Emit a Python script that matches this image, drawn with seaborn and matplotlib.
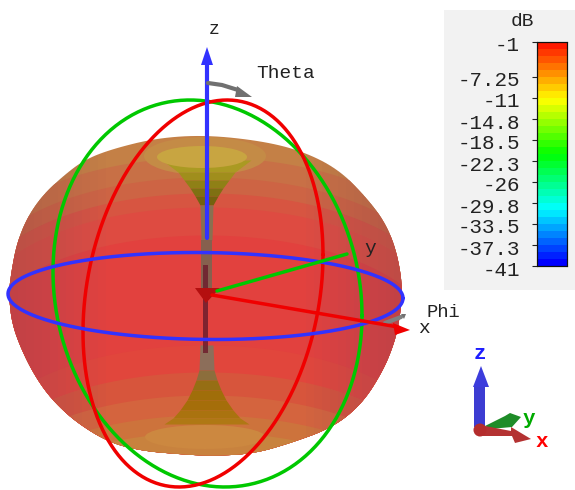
import numpy as np
import matplotlib
matplotlib.use('Agg')
import matplotlib.pyplot as plt
from matplotlib.colors import LinearSegmentedColormap
from matplotlib.patches import Ellipse, Polygon, Rectangle, Circle
from matplotlib.transforms import ScaledTranslation
import seaborn as sns

# colour bar
tick_values = [-1, -7.25, -11, -14.8, -18.5, -22.3, -26, -29.8, -33.5, -37.3, -41]
tick_labels = ['-1', '-7.25', '-11', '-14.8', '-18.5', '-22.3', '-26', '-29.8', '-33.5', '-37.3', '-41']
bar_colors = ['#0000ff', '#00ffff', '#00ff00', '#ffff00', '#ff1a00']

# pattern silhouette (scene units = pixels)
outline_x = [9, 12, 17, 27, 42, 62, 84, 112, 157, 206, 262, 302, 338, 365, 385, 397, 403,
             399, 394, 383, 362, 332, 288, 252, 210, 177, 143, 110, 77, 53, 36, 22, 12, 9]
outline_y = [290, 268, 243, 218, 196, 177, 160, 149, 138, 135, 141, 151, 169, 196, 222, 252, 290,
             323, 344, 371, 404, 428, 444, 454, 456, 454, 451, 443, 423, 401, 378, 351, 324, 297]

# gain bands seen as arches across the body
band_top = [130, 157, 177, 193, 207, 235, 345, 372, 395, 415, 432]
band_color = ['#c48046', '#c87046', '#cd6444', '#d75541', '#de4b41', '#e2413e',
              '#e1463c', '#d7553c', '#d4643e', '#cd733c', '#c8823e']

# funnels along the z axis
funnel_top_y = [160, 172, 180, 188, 196, 205, 240, 292]
funnel_top_w = [44, 28, 22, 16, 11, 6, 5, 5]
funnel_top_c = ['#aa9a22', '#a08e1c', '#8f8016', '#7f7012', '#74620f', '#8a7050', '#86604e']
funnel_bot_y = [345, 370, 380, 390, 400, 410, 418, 424]
funnel_bot_w = [6, 7, 10, 14, 19, 26, 33, 42]
funnel_bot_c = ['#8c6e5a', '#8c6e3c', '#966e14', '#a06e0a', '#a56e0a', '#aa730f', '#af7814']

# rings: centre x, centre y, half width, half height, skew
ring_names = ['green', 'red', 'blue']
ring_cx = [207.5, 203, 205.5]
ring_cy = [293.5, 293.5, 296]
ring_ax = [154.5, 120, 197.5]
ring_ay = [193.5, 193.5, 43.5]
ring_skew = [0.113, -0.2, 0.05]
ring_color = ['#00c800', '#f00000', '#3232ff']


def round_corners(pts, passes=3):
    # corner cutting so the silhouette has no visible facets
    for _ in range(passes):
        nxt = np.roll(pts, -1, axis=0)
        pts = np.column_stack([0.75 * pts + 0.25 * nxt, 0.25 * pts + 0.75 * nxt]).reshape(-1, 2)
    return pts


sns.set_theme(style='white')
plt.rcParams['font.family'] = ['Liberation Mono', 'DejaVu Sans Mono']

fig = plt.figure(figsize=(5.75, 4.9), dpi=100)
ax = fig.add_axes([0, 0, 1, 1])
ax.set_xlim(0, 575)
ax.set_ylim(490, 0)
ax.axis('off')

# legend panel
ax.add_patch(Rectangle((444, 10), 131, 280, color='#f2f2f2', lw=0, zorder=1))
ax.text(522, 21, 'dB', ha='center', va='center', fontsize=14, color='#222222', zorder=2)

hidden = fig.add_axes([0, 0, 0.01, 0.01])
cax = fig.add_axes([537 / 575, 1 - 266 / 490, 30 / 575, 224 / 490])
cmap = LinearSegmentedColormap.from_list('cst', bar_colors, N=32)
sns.heatmap(np.array(tick_values).reshape(-1, 1), ax=hidden, cbar_ax=cax, vmin=-41, vmax=-1,
            cmap=cmap, cbar_kws={'ticks': tick_values})
hidden.set_visible(False)
cax.set_yticks(tick_values)
cax.set_yticklabels(tick_labels, fontsize=15, color='#222222', ha='right')
cax.yaxis.set_ticks_position('left')
cax.tick_params(axis='y', length=3.6, width=0.8, color='#222222', pad=8.6, left=True, right=False)
for lab in cax.get_yticklabels():
    lab.set_transform(lab.get_transform() + ScaledTranslation(0, -2 / 100, fig.dpi_scale_trans))
for s in cax.spines.values():
    s.set_visible(True)
    s.set_color('#111111')
    s.set_linewidth(0.8)

# body
body = Polygon(round_corners(np.column_stack([outline_x, outline_y], ).astype(float)),
               closed=True, fc='none', ec='none')
ax.add_patch(body)
xs = np.arange(0, 421)
for top, col in zip(band_top, band_color):
    arch = top + 105 * (1 - np.sqrt(1 - ((xs - 206) / 230) ** 2))
    f = ax.fill_between(xs, arch, 490, color=col, lw=0, zorder=2)
    f.set_clip_path(body)

# darker towards the silhouette edge
for lo in range(100, 196, 8):
    left = ax.add_patch(Rectangle((0, 100), 206 - lo, 380, color='#8c5064', alpha=0.03, lw=0, zorder=2.1))
    right = ax.add_patch(Rectangle((206 + lo, 100), 214, 380, color='#8c5064', alpha=0.03, lw=0, zorder=2.1))
    left.set_clip_path(body)
    right.set_clip_path(body)

# rims around the funnels
ax.add_patch(Ellipse((205, 156), 122, 38, color='#c48b46', lw=0, zorder=2.2))
ax.add_patch(Ellipse((205, 437), 120, 24, color='#cc8840', lw=0, zorder=2.2))

for i, col in enumerate(funnel_top_c):
    ax.fill_betweenx(funnel_top_y[i:i + 2],
                     [206 - w for w in funnel_top_w[i:i + 2]],
                     [207 + w for w in funnel_top_w[i:i + 2]], color=col, lw=0, zorder=2.3)
for i, col in enumerate(funnel_bot_c):
    ax.fill_betweenx(funnel_bot_y[i:i + 2],
                     [206 - w for w in funnel_bot_w[i:i + 2]],
                     [207 + w for w in funnel_bot_w[i:i + 2]], color=col, lw=0, zorder=2.3)
ax.add_patch(Ellipse((202, 157), 90, 22, color='#c8a541', lw=0, zorder=2.4))

# dark stem and the arrow seen end on
ax.add_patch(Rectangle((203, 265), 5, 88, color='#6e1e2d', alpha=0.85, lw=0, zorder=2.5))
ax.add_patch(Polygon([(195, 288), (220, 288), (206, 303)], color='#b40f0f', lw=0, zorder=3))

# rings
u = np.linspace(0, 2 * np.pi, 300)
for i, name in enumerate(ring_names):
    d = np.arccos(ring_skew[i])
    rx = ring_cx[i] + ring_ax[i] * np.cos(u)
    ry = ring_cy[i] + ring_ay[i] * np.cos(u - d)
    sns.lineplot(x=rx, y=ry, sort=False, estimator=None, color=ring_color[i], lw=2.5,
                 ax=ax, zorder=4, legend=False)

# main axes
sns.lineplot(x=[207, 207], y=[60, 238], color='#3232ff', lw=3, estimator=None, ax=ax, zorder=5)
ax.add_patch(Polygon([(207, 47), (201, 65), (213, 65)], color='#3232ff', lw=0, zorder=5))
sns.lineplot(x=[217, 347], y=[291, 254], color='#00c800', lw=2.5, estimator=None, sort=False, ax=ax, zorder=5)
sns.lineplot(x=[212, 398], y=[295, 327], color='#f00000', lw=2.5, estimator=None, sort=False, ax=ax, zorder=5)
ax.add_patch(Polygon([(410, 330), (393, 323), (395, 335)], color='#f00000', lw=0, zorder=5))

# theta and phi markers
sns.lineplot(x=[208, 222, 238], y=[83, 85, 90], color='#707070', lw=3, estimator=None, sort=False, ax=ax, zorder=5)
ax.add_patch(Polygon([(237, 86), (252, 97), (235, 97)], color='#707070', lw=0, zorder=5))
sns.lineplot(x=[385, 401], y=[323, 317], color='#808080', lw=3, estimator=None, sort=False, ax=ax, zorder=3.5)
ax.add_patch(Polygon([(401, 314), (406, 314), (404, 319)], color='#707070', lw=0, zorder=5))

txt = dict(ha='center', va='center', color='#222222', zorder=6)
ax.text(214, 30, 'z', fontsize=13, **txt)
ax.text(286, 73, 'Theta', fontsize=14, **txt)
ax.text(370, 248, 'y', fontsize=14, **txt)
ax.text(443, 312, 'Phi', fontsize=13.5, **txt)
ax.text(424, 328, 'x', fontsize=14, **txt)

# small orientation triad
ax.add_patch(Rectangle((474, 385), 11, 42, color='#3c3cd2', lw=0, zorder=3))
ax.add_patch(Polygon([(481, 366), (473, 387), (489, 387)], color='#3c3cdc', lw=0, zorder=3))
ax.add_patch(Polygon([(485, 426), (505, 416), (510, 413), (521, 417), (512, 427), (490, 429)],
                     color='#1e8c28', lw=0, zorder=3))
ax.add_patch(Polygon([(480, 425), (511, 431), (511, 427), (531, 439), (515, 443), (512, 436), (480, 436)],
                     color='#b43232', lw=0, zorder=3.2))
ax.add_patch(Circle((480, 430), 6.5, color='#b42d2d', lw=0, zorder=3.3))
ax.text(480, 353, 'z', fontsize=15, fontweight='bold', ha='center', va='center', color='#1e1eff')
ax.text(529, 418, 'y', fontsize=15, fontweight='bold', ha='center', va='center', color='#00aa00')
ax.text(542, 441, 'x', fontsize=15, fontweight='bold', ha='center', va='center', color='#ff0000')

fig.savefig('out.png', dpi=100)
